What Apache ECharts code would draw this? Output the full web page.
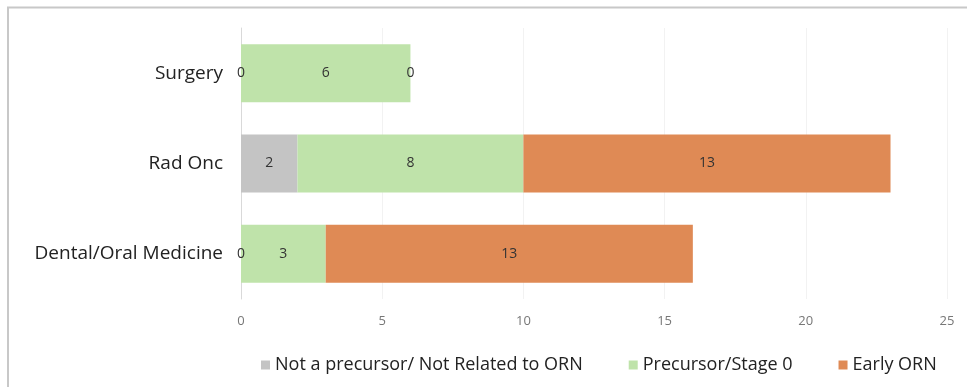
<!DOCTYPE html>
<html>
<head>
<meta charset="UTF-8">
<title></title>
<script type="text/javascript" src="https://cdn.jsdelivr.net/npm/echarts@6/dist/echarts.min.js"></script>
<style>
	body { margin: 0; background: #fff; }
	#chartArea { width: 967px; height: 387px; }
</style>
</head>
<body>
<div id="chartArea"></div>
<script type="text/javascript">
	// data
	var categories = ['Dental/Oral Medicine', 'Rad Onc', 'Surgery'];
	var notPrecursor = [0, 2, 0];
	var precursorStage0 = [3, 8, 6];
	var earlyORN = [13, 13, 0];
	var seriesNames = ['Not a precursor/ Not Related to ORN', 'Precursor/Stage 0', 'Early ORN'];
	var xTicks = [0, 5, 10, 15, 20, 25];

	var font = '"Open Sans", "Liberation Sans", sans-serif';
	var myChart = echarts.init(document.getElementById('chartArea'));

	function barLabel() {
		return {
			show: true,
			position: 'inside',
			color: '#333',
			fontSize: 14,
			fontFamily: font
		};
	}

	var option = {
		animation: false,
		color: ['#c4c4c4', '#bfe3aa', '#df8a55'],
		graphic: [{
			type: 'polyline',
			shape: { points: [[8, 387], [8, 7.5], [967, 7.5]] },
			style: { stroke: '#c8c8c8', lineWidth: 2, fill: null }
		}],
		grid: {
			left: 241,
			right: 20,
			top: 28,
			bottom: 88
		},
		legend: {
			data: seriesNames,
			bottom: 8,
			left: 256,
			itemWidth: 9,
			itemHeight: 9,
			itemGap: 46,
			icon: 'rect',
			textStyle: { fontSize: 18, color: '#222', fontFamily: font }
		},
		xAxis: {
			type: 'value',
			min: xTicks[0],
			max: xTicks[xTicks.length - 1],
			interval: 5,
			axisLine: { show: false },
			axisTick: { show: false },
			splitLine: { show: true, lineStyle: { color: '#f2f2f2' } },
			axisLabel: { color: '#777', fontSize: 13, margin: 16, fontFamily: font }
		},
		yAxis: {
			type: 'category',
			data: categories,
			axisLine: { show: true, lineStyle: { color: '#d9d9d9' } },
			axisTick: { show: false },
			axisLabel: { color: '#222', fontSize: 19, margin: 18, fontFamily: font }
		},
		series: [{
			name: seriesNames[0],
			type: 'bar',
			stack: 'total',
			barWidth: 58,
			label: barLabel(),
			data: notPrecursor
		}, {
			name: seriesNames[1],
			type: 'bar',
			stack: 'total',
			barWidth: 58,
			label: barLabel(),
			data: precursorStage0
		}, {
			name: seriesNames[2],
			type: 'bar',
			stack: 'total',
			barWidth: 58,
			label: barLabel(),
			data: earlyORN
		}]
	};
	myChart.setOption(option);
</script>
</body>
</html>
